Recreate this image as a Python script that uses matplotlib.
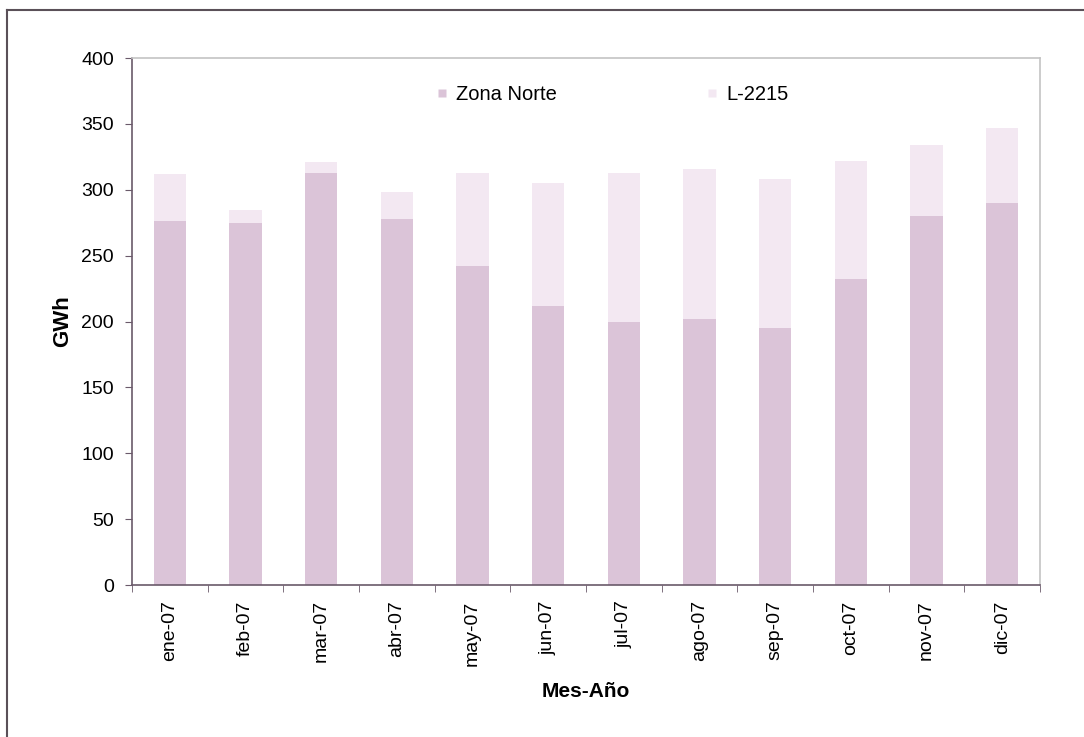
import matplotlib
matplotlib.use("Agg")
import matplotlib.pyplot as plt
from matplotlib.lines import Line2D
import numpy as np

months = ["ene-07", "feb-07", "mar-07", "abr-07", "may-07", "jun-07",
          "jul-07", "ago-07", "sep-07", "oct-07", "nov-07", "dic-07"]
zona_norte = [276, 275, 313, 278, 242, 212, 200, 202, 195, 232, 280, 290]
l_2215 = [36, 10, 8, 20, 71, 93, 113, 114, 113, 90, 54, 57]

plt.rcParams["font.family"] = ["Liberation Sans", "DejaVu Sans"]

fig = plt.figure(figsize=(10.84, 7.37), dpi=100)
ax = fig.add_axes([0.1218, 0.2062, 0.9594 - 0.1218, 0.9213 - 0.2062])

x = np.arange(len(months))
c_zona = "#dbc4d8"
c_l = "#f3e8f2"
ax.bar(x, zona_norte, width=0.43, color=c_zona, label="Zona Norte")
ax.bar(x, l_2215, width=0.43, bottom=zona_norte, color=c_l, label="L-2215")

ax.set_xlim(-0.5, len(months) - 0.5)
ax.set_ylim(0, 400)
ax.set_yticks(range(0, 401, 50))
ax.set_xticks(x)
ax.set_xticklabels(months, rotation=90, fontsize=14)
ax.tick_params(axis="x", length=0, pad=11)
ax.set_xticks(np.arange(-0.5, len(months), 1), minor=True)
ax.tick_params(axis="x", which="minor", length=5, color="#6a5a6a")
ax.tick_params(axis="y", labelsize=14, length=5, color="#6a5a6a", pad=8)

for s in ("left", "bottom"):
    ax.spines[s].set_color("#6a5a6a")
    ax.spines[s].set_linewidth(1.2)
for s in ("top", "right"):
    ax.spines[s].set_color("#c4c4c4")
    ax.spines[s].set_linewidth(1.2)

ax.set_ylabel("GWh", fontsize=16, fontweight="bold", labelpad=6)
ax.set_xlabel("Mes-Año", fontsize=15, fontweight="bold", labelpad=12)

handles = [Line2D([], [], marker="s", linestyle="none", markersize=6,
                  markerfacecolor=c_zona, markeredgecolor="none"),
           Line2D([], [], marker="s", linestyle="none", markersize=6,
                  markerfacecolor=c_l, markeredgecolor="none")]
ax.legend(handles, ["Zona Norte", "L-2215"], ncol=2, frameon=False,
          fontsize=14.5, loc="upper center", bbox_to_anchor=(0.528, 0.983),
          handlelength=0.8, handletextpad=0.3, columnspacing=7.3)

# outer chart frame
frame_col = "#5a5058"
fig.add_artist(Line2D([7 / 1084, 7 / 1084], [0, 1 - 10 / 737],
                      color=frame_col, lw=1.5, transform=fig.transFigure))
fig.add_artist(Line2D([7 / 1084, 1], [1 - 10 / 737, 1 - 10 / 737],
                      color=frame_col, lw=1.5, transform=fig.transFigure))

fig.savefig("out.png", dpi=100)
